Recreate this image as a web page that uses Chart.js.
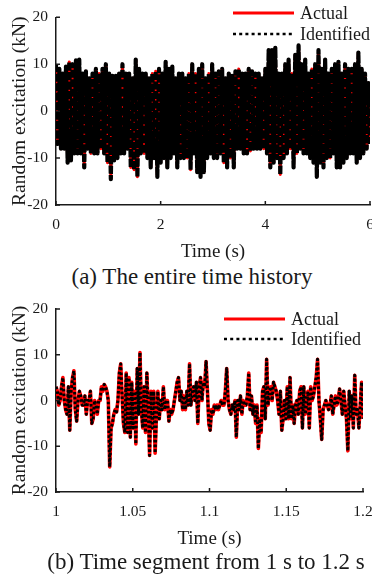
<!DOCTYPE html>
<html>
<head>
<meta charset="utf-8">
<script src="https://cdn.jsdelivr.net/npm/chart.js"></script>
<style>
html, body { margin: 0; padding: 0; background: #fff; width: 372px; height: 586px; overflow: hidden; position: relative; }
canvas { position: absolute; left: 0; }
.cap { position: absolute; width: 400px; text-align: center; font-family: "Liberation Serif", serif; font-size: 23px; line-height: 28px; color: #1a1a1a; white-space: nowrap; }
</style>
</head>
<body>
<canvas id="fullChart" width="385" height="263" style="top:0"></canvas>
<div class="cap" style="top:263px; left:-8px">(a) The entire time history</div>
<canvas id="segmentChart" width="385" height="260" style="top:290px"></canvas>
<div class="cap" style="top:548px; left:6px">(b) Time segment from 1 s to 1.2 s</div>
<script>
const seriesNames = ['Actual', 'Identified'];
const yRange = [-20, 20];
const yStep = 10;

// (a) whole 6 s record: one peak and one trough read per ~0.064 s slot
const fullSpan = [0, 6];
const fullStep = 2;
const fullUpper = [
  10, 9, 8, 9.5, 10.5, 10, 10.8, 11, 8, 8.5,
  7, 8, 9, 8, 9, 10, 8, 7.5, 7.5, 8,
  10, 8, 8, 7, 11, 9, 8, 8, 7, 8,
  8.5, 9, 8, 10.5, 9, 9.5, 7, 8, 8, 7,
  8, 10, 8, 9, 10, 7, 8, 10, 8, 8.5,
  9, 7, 8, 7.5, 8.5, 9, 8, 8, 9, 8.5,
  8, 8, 7, 9, 13, 13, 13.5, 8, 8, 10,
  11, 8, 12, 14, 10, 11, 8, 9, 10, 13,
  9, 11, 8, 9, 10, 10.5, 8, 10, 9, 9,
  10, 12.5, 9, 8, 6
];
const fullLower = [
  -7, -8, -8, -11, -10.5, -9, -9, -9, -12, -8,
  -9, -9, -9, -8, -9, -11, -14.5, -10.5, -10, -9,
  -9, -8, -12, -12.5, -14, -9, -9, -10, -12, -10,
  -14, -11, -10, -12, -10, -9, -12, -10, -10, -10,
  -12.5, -9, -13, -14, -13, -10, -9, -10, -10, -9,
  -11, -12, -10, -12, -8, -8, -9, -9, -8.5, -8,
  -8, -8, -8, -9, -12, -11, -10, -13.5, -10, -9,
  -8, -12, -9, -8, -9, -9, -10, -11, -14, -11,
  -12, -10, -10, -9, -12, -12, -11, -10, -9, -9,
  -11, -10, -9, -8, -7
];

// (b) 1 s to 1.2 s segment, about one sample per millisecond
const segSpan = [1, 1.2];
const segStep = 0.05;
const segValues = [
  3, 2, -1, 0, 3, 5, 0, -2, -3, 3, -6.5, 2, 5, 6.5, -2, -4.5, 0, 2, 1, -1,
  -1, 1, -3, 0, 0, 2, -5, -4, 0, -1, -3, 0, 0, 3, 2, 3.5, 3, 2, 0, -14.5,
  -6, -5, -3, -2, -2.5, 0, 6, 8, 1, -5, -7, 6, -7, 5, -8, 4, -6, 2, -9.5, 7,
  -3, 10.5, -2, -6, 3, -7, 6, -2, -12, 2, -6, 2, -11.5, -3, 2, -4, 0, -2, 3, -2,
  0, 0, -4.5, -2, -3, -2, 0, 2, 4, 5, 0, 2, -2, 1, -2, 2, -1, 8, -1, 2,
  3, 0, 4, -5, 3, 5, 0, 4, 3, 8.5, 2, -5, -6.5, -2, -3, -1, -2, -1, -2, -1,
  0, -1, -1, 2, 7, 0, -2, -3, -1, -2, 0, -8, 0, -2, 1, -3, 0, -1, -1, 1,
  6, -2, 1, -3, -1, -5, -1, -10.5, -4, -7, 2, 3, -4, 9, -1, 2, 3, 0, 4, 3,
  2, 0, -3, 2, -6.5, -4, 0, -4, 3, -4, 5, -4, -1, -5, -1, 0, -3, 2, 3, -6,
  3, -3, -1, 2, -6, 3, 0, 1, 3, 5, 9, 0, -4, -8.5, -2, -1, 0, -1, -2, -1,
  1, -3, -1, 1, -1, 0, 2.5, 0, -3, 2, -1, -4, -11, 2, -4, 1, -6, 5.5, -3, -2,
  -6, -1, 4, -4
];

// peaks and troughs alternate so the trace fills the band like the dense record
function envelopePoints(upper, lower, span) {
  const dt = (span[1] - span[0]) / (upper.length - 0.5);
  const pts = [];
  upper.forEach((u, k) => {
    pts.push({x: span[0] + k * dt, y: u});
    pts.push({x: span[0] + (k + 0.5) * dt, y: lower[k]});
  });
  return pts;
}

function samplePoints(values, span) {
  const dt = (span[1] - span[0]) / (values.length - 1);
  return values.map((v, i) => ({x: span[0] + i * dt, y: v}));
}

const ink = '#1a1a1a';
const serif = '"Liberation Serif", "Times New Roman", serif';

const inwardTicks = {
  id: 'inwardTicks',
  afterDraw(chart) {
    const {ctx, chartArea, scales} = chart;
    ctx.save();
    ctx.strokeStyle = ink;
    ctx.lineWidth = 1.5;
    ctx.beginPath();
    scales.x.ticks.forEach(t => {
      const px = scales.x.getPixelForValue(t.value);
      ctx.moveTo(px, chartArea.bottom);
      ctx.lineTo(px, chartArea.bottom - 4);
    });
    scales.y.ticks.forEach(t => {
      const py = scales.y.getPixelForValue(t.value);
      ctx.moveTo(chartArea.left, py);
      ctx.lineTo(chartArea.left + 4, py);
    });
    ctx.stroke();
    ctx.restore();
  }
};

// legend keys: solid red and dotted black, same look in both panels
const innerLegend = {
  id: 'innerLegend',
  afterDatasetsDraw(chart, args, opts) {
    const {ctx} = chart;
    const keys = [{w: 3, dash: []}, {w: 2.5, dash: [3, 3.2]}];
    ctx.save();
    ctx.font = '18px ' + serif;
    ctx.textBaseline = 'middle';
    chart.data.datasets.forEach((ds, i) => {
      const y = opts.y + i * opts.gap;
      ctx.strokeStyle = ds.borderColor;
      ctx.lineWidth = keys[i].w;
      ctx.setLineDash(keys[i].dash);
      ctx.beginPath();
      ctx.moveTo(opts.x, y);
      ctx.lineTo(opts.x + 61, y);
      ctx.stroke();
      ctx.setLineDash([]);
      ctx.fillStyle = ink;
      ctx.fillText(ds.label, opts.x + 67, y + 1);
    });
    ctx.restore();
  }
};

// the identified trace lies on top of the actual one, so it gets the lower order
function traceSets(points, look) {
  return [{
    label: seriesNames[0],
    data: points.map(p => ({...p})),
    borderColor: '#ff0000',
    borderWidth: look.red,
    borderJoinStyle: 'round',
    pointRadius: 0,
    tension: 0,
    order: 2
  }, {
    label: seriesNames[1],
    data: points.map(p => ({...p})),
    borderColor: '#000000',
    borderWidth: look.black,
    borderDash: look.dash,
    borderJoinStyle: 'round',
    pointRadius: 0,
    tension: 0,
    order: 1
  }];
}

function makeChart(id, points, look, span, step, padding, xHeight, legendAt) {
  return new Chart(document.getElementById(id), {
    type: 'line',
    data: {datasets: traceSets(points, look)},
    plugins: [inwardTicks, innerLegend],
    options: {
      responsive: false,
      animation: false,
      devicePixelRatio: 1,
      layout: {padding: padding},
      plugins: {
        legend: {display: false},
        tooltip: {enabled: false},
        innerLegend: legendAt
      },
      scales: {
        x: {
          type: 'linear',
          min: span[0],
          max: span[1],
          afterFit: s => { s.height = xHeight; },
          ticks: {
            stepSize: step, color: ink, font: {family: serif, size: 15.5}, padding: 11, maxRotation: 0,
            callback: v => String(Number(v.toFixed(2)))
          },
          grid: {display: false, drawTicks: false},
          border: {display: true, color: ink, width: 1.5},
          title: {display: true, text: 'Time (s)', color: ink, font: {family: serif, size: 19}, padding: {top: 0, bottom: 0}}
        },
        y: {
          min: yRange[0],
          max: yRange[1],
          afterFit: s => { s.width = 56; },
          ticks: {stepSize: yStep, color: ink, font: {family: serif, size: 15.5}, padding: 8},
          grid: {display: false, drawTicks: false},
          border: {display: true, color: ink, width: 1.5},
          title: {display: true, text: 'Random excitation (kN)', color: ink, font: {family: serif, size: 19.5}, padding: {top: 8, bottom: 0}}
        }
      }
    }
  });
}

makeChart('fullChart', envelopePoints(fullUpper, fullLower, fullSpan),
  {red: 3, black: 4.2, dash: [8, 1.5]}, fullSpan, fullStep,
  {top: 16, left: 0, right: 15, bottom: 0}, 58, {x: 233, y: 13, gap: 21});
makeChart('segmentChart', samplePoints(segValues, segSpan),
  {red: 3.6, black: 3, dash: [2.6, 2.2]}, segSpan, segStep,
  {top: 19, left: 0, right: 22, bottom: 0}, 58, {x: 224, y: 29, gap: 20});
</script>
</body>
</html>
